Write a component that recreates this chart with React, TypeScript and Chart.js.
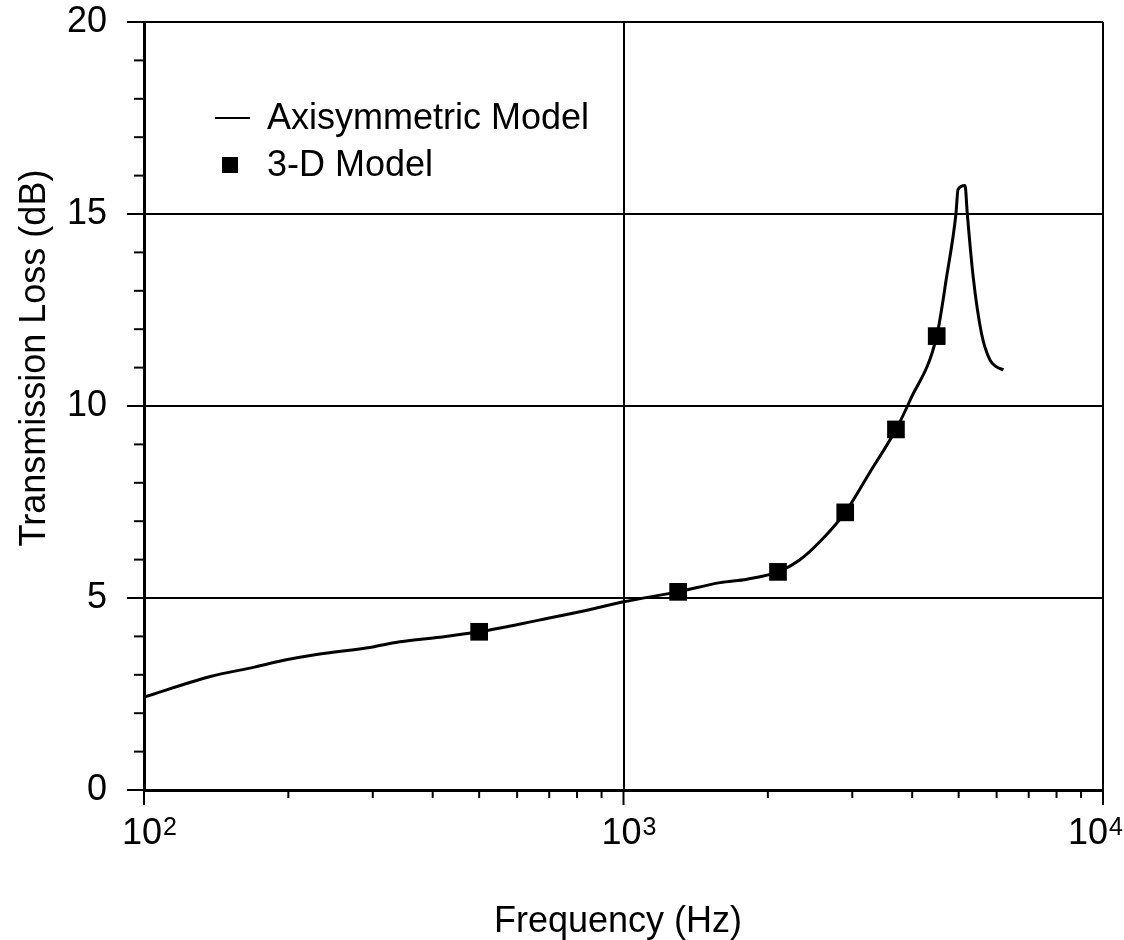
import React, { useEffect, useRef } from "react";
import { Chart, registerables } from "chart.js";

Chart.register(...registerables);

// Axisymmetric model curve (frequency Hz, transmission loss dB)
const curveFreq = [100, 137, 170, 198, 229, 298, 342, 414, 500, 670, 811, 1000, 1300, 1590, 1810, 2100, 2330, 2570, 2900, 3270, 3700, 3960, 4500, 4720, 4935, 4985, 5155, 5212, 5360, 5580, 5810, 6000, 6200];
const curveTL = [2.42, 2.95, 3.2, 3.39, 3.53, 3.72, 3.86, 3.98, 4.12, 4.43, 4.64, 4.9, 5.16, 5.4, 5.49, 5.68, 5.99, 6.47, 7.23, 8.29, 9.39, 10.15, 11.82, 13.37, 15.0, 15.64, 15.74, 15.0, 13.37, 11.89, 11.2, 11.02, 10.94];

// 3-D model points
const pointFreq = [500, 1300, 2100, 2900, 3700, 4500];
const pointTL = [4.12, 5.16, 5.68, 7.23, 9.39, 11.82];

const legendLabels = ["Axisymmetric Model", "3-D Model"];
const xMajorTicks = [100, 1000, 10000];
const xTickExponents = ["2", "3", "4"];
const yTicks = [0, 5, 10, 15, 20];
const xTitle = "Frequency (Hz)";
const yTitle = "Transmission Loss (dB)";

const FONT = '"Liberation Sans", Arial, Helvetica, sans-serif';

const decorPlugin = {
  id: "decor",
  afterDraw(chart: any) {
    const ctx = chart.ctx;
    const xs = chart.scales.x;
    const ys = chart.scales.y;
    const area = chart.chartArea;
    ctx.save();
    ctx.strokeStyle = "#000";
    ctx.lineWidth = 2;
    // y tick marks (major + minor)
    for (let v = 0; v <= 20; v++) {
      const py = ys.getPixelForValue(v);
      const len = v % 5 === 0 ? 17 : 10;
      ctx.beginPath();
      ctx.moveTo(area.left - len, py);
      ctx.lineTo(area.left, py);
      ctx.stroke();
    }
    // x tick marks (major + minor)
    for (let d = 100; d < 10000; d *= 10) {
      for (let m = 1; m <= 9; m++) {
        const px = xs.getPixelForValue(m * d);
        const len = m === 1 ? 15 : 8;
        ctx.beginPath();
        ctx.moveTo(px, area.bottom);
        ctx.lineTo(px, area.bottom + len);
        ctx.stroke();
      }
    }
    {
      const px = xs.getPixelForValue(10000);
      ctx.beginPath();
      ctx.moveTo(px, area.bottom);
      ctx.lineTo(px, area.bottom + 15);
      ctx.stroke();
    }
    // x tick labels 10^n
    ctx.fillStyle = "#000";
    xMajorTicks.forEach((v, i) => {
      const px = xs.getPixelForValue(v);
      const cx = i === xMajorTicks.length - 1 ? px - 15 : px - 2;
      ctx.font = `36px ${FONT}`;
      ctx.textAlign = "center";
      ctx.textBaseline = "alphabetic";
      ctx.fillText("10", cx, 844);
      const w = ctx.measureText("10").width;
      ctx.font = `25px ${FONT}`;
      ctx.textAlign = "left";
      ctx.fillText(xTickExponents[i], cx + w / 2 + 1, 835);
    });
    // axis titles
    ctx.font = `36px ${FONT}`;
    ctx.textAlign = "center";
    ctx.textBaseline = "alphabetic";
    ctx.fillText(xTitle, 618, 932);
    ctx.save();
    ctx.translate(35, 358);
    ctx.rotate(-Math.PI / 2);
    ctx.textBaseline = "middle";
    ctx.fillText(yTitle, 0, 0);
    ctx.restore();
    // legend
    ctx.lineWidth = 2;
    ctx.beginPath();
    ctx.moveTo(215, 118);
    ctx.lineTo(250, 118);
    ctx.stroke();
    ctx.fillRect(222, 157, 16, 16);
    ctx.font = `36px ${FONT}`;
    ctx.textAlign = "left";
    ctx.textBaseline = "middle";
    ctx.fillText(legendLabels[0], 267, 119);
    ctx.fillText(legendLabels[1], 267, 166);
    ctx.restore();
  },
};

export default function App() {
  const ref = useRef<HTMLCanvasElement>(null);
  useEffect(() => {
    if (!ref.current) return;
    const chart = new Chart(ref.current, {
      type: "line",
      data: {
        datasets: [
          {
            label: legendLabels[0],
            data: curveFreq.map((f, i) => ({ x: f, y: curveTL[i] })),
            borderColor: "#000",
            borderWidth: 3,
            pointRadius: 0,
            cubicInterpolationMode: "monotone",
            fill: false,
          },
          {
            label: legendLabels[1],
            data: pointFreq.map((f, i) => ({ x: f, y: pointTL[i] })),
            showLine: false,
            pointStyle: "rect",
            pointRadius: 12.5,
            pointBackgroundColor: "#000",
            pointBorderColor: "#000",
            pointBorderWidth: 0,
          },
        ],
      },
      options: {
        responsive: false,
        animation: false,
        layout: { padding: { left: 0, top: 22, right: 21, bottom: 0 } },
        plugins: { legend: { display: false }, tooltip: { enabled: false } },
        scales: {
          x: {
            type: "logarithmic",
            min: 100,
            max: 10000,
            afterBuildTicks: (scale: any) => {
              scale.ticks = xMajorTicks.map((v) => ({ value: v, major: true }));
            },
            afterFit: (scale: any) => {
              scale.height = 150;
            },
            ticks: { display: false },
            grid: { color: "#000", lineWidth: 2, drawTicks: false },
            border: { display: true, color: "#000", width: 3 },
          },
          y: {
            type: "linear",
            min: 0,
            max: 20,
            afterBuildTicks: (scale: any) => {
              scale.ticks = yTicks.map((v) => ({ value: v }));
            },
            afterFit: (scale: any) => {
              scale.width = 144;
            },
            ticks: {
              padding: 0,
              color: "#000",
              font: { family: FONT, size: 36 },
            },
            grid: {
              color: "#000",
              lineWidth: 2,
              drawTicks: true,
              tickLength: 37,
              tickColor: "rgba(0,0,0,0)",
            },
            border: { display: true, color: "#000", width: 3 },
          },
        },
      },
      plugins: [decorPlugin],
    });
    return () => chart.destroy();
  }, []);
  return (
    <div style={{ position: "fixed", left: 0, top: 0, width: 1124, height: 940, background: "#fff" }}>
      <canvas ref={ref} width={1124} height={940} style={{ width: 1124, height: 940 }} />
    </div>
  );
}
